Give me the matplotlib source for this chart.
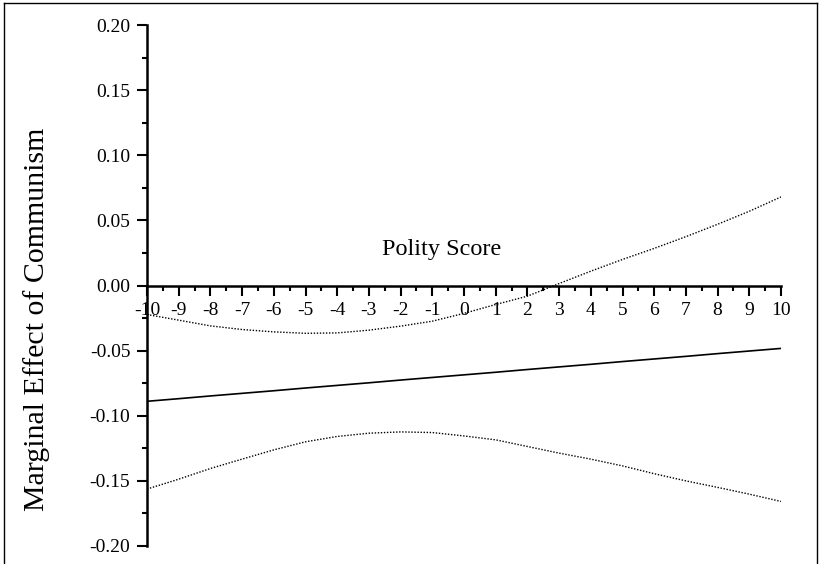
import matplotlib.pyplot as plt
from matplotlib.ticker import MultipleLocator, FormatStrFormatter
from matplotlib.lines import Line2D

# polity score -10..10
polity = [-10, -9, -8, -7, -6, -5, -4, -3, -2, -1, 0, 1, 2, 3, 4, 5, 6, 7, 8, 9, 10]
effect = [-0.0889, -0.0869, -0.0848, -0.0828, -0.0808, -0.0787, -0.0767, -0.0747,
          -0.0726, -0.0706, -0.0686, -0.0666, -0.0645, -0.0625, -0.0605, -0.0584,
          -0.0564, -0.0544, -0.0523, -0.0503, -0.0483]
upper = [-0.0223, -0.0266, -0.0310, -0.0338, -0.0356, -0.0367, -0.0364, -0.0343,
         -0.0312, -0.0274, -0.0214, -0.0146, -0.0082, 0.0015, 0.0110, 0.0200,
         0.0285, 0.0375, 0.0470, 0.0570, 0.0680]
lower = [-0.1563, -0.1487, -0.1405, -0.1333, -0.1262, -0.1200, -0.1159, -0.1134,
         -0.1124, -0.1129, -0.1155, -0.1185, -0.1236, -0.1287, -0.1333, -0.1385,
         -0.1445, -0.1500, -0.1550, -0.1602, -0.1658]

plt.rcParams['font.family'] = ['Liberation Serif', 'DejaVu Serif']
plt.rcParams['axes.unicode_minus'] = False

fig = plt.figure(figsize=(8.19, 5.64), dpi=100)
ax = fig.add_axes([147/819, 1-546/564, (781-147)/819, (546-25)/564])

ax.plot(polity, effect, color='black', lw=1.2)
ax.plot(polity, upper, color='black', lw=1.0, linestyle=(0, (1, 1.2)))
ax.plot(polity, lower, color='black', lw=1.0, linestyle=(0, (1, 1.2)))

ax.set_xlim(-10, 10)
ax.set_ylim(-0.2, 0.2)

ax.spines['right'].set_color('none')
ax.spines['top'].set_color('none')
ax.spines['bottom'].set_position(('data', 0))
ax.spines['left'].set_linewidth(1.8)
ax.spines['bottom'].set_linewidth(1.8)

ax.xaxis.set_major_locator(MultipleLocator(1))
ax.xaxis.set_minor_locator(MultipleLocator(0.5))
ax.yaxis.set_major_locator(MultipleLocator(0.05))
ax.yaxis.set_minor_locator(MultipleLocator(0.025))
ax.yaxis.set_major_formatter(FormatStrFormatter('%.2f'))

ax.tick_params(axis='both', which='major', direction='out', length=7, width=1.5,
               labelsize=14)
ax.tick_params(axis='both', which='minor', direction='out', length=3.5, width=1.5)
ax.tick_params(axis='x', which='major', pad=5)
ax.tick_params(axis='y', which='major', pad=5)

fig.text(442/819, 1-250/564, 'Polity Score', fontsize=17.5, ha='center', va='center')
fig.text(37/819, 1-319/564, 'Marginal Effect of Communism', fontsize=21.5,
         rotation=90, ha='center', va='center')

# frame around the figure (no bottom edge)
for xs, ys in [([4/819, 4/819], [0, 1-3/564]),
               ([4/819, 817/819], [1-3/564, 1-3/564]),
               ([817/819, 817/819], [0, 1-3/564])]:
    fig.add_artist(Line2D(xs, ys, color='black', lw=1.0, transform=fig.transFigure))

fig.savefig('out.png', dpi=100)
